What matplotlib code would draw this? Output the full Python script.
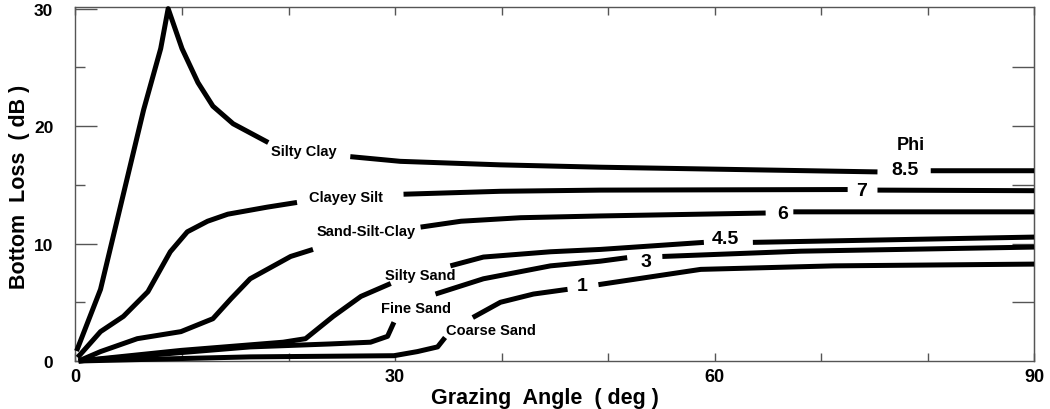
import numpy as np
import matplotlib
matplotlib.use("Agg")
import matplotlib.pyplot as plt
from matplotlib.ticker import MultipleLocator

nan = np.nan

# ---- data (grazing angle in deg, bottom loss in dB); nan = gap where label sits ----
sediments = ["Silty Clay", "Clayey Silt", "Sand-Silt-Clay", "Silty Sand", "Fine Sand", "Coarse Sand"]
phi_labels = ["8.5", "7", "6", "4.5", "3", "1"]

angle_silty_clay = [0.1, 2.35, 6.4, 8.0, 8.7, 10.0, 11.5, 12.9, 14.8, 18.1, nan,
                    25.8, 30.5, 39.9, 49.3, 75.3, nan, 80.3, 90.0]
loss_silty_clay = [0.85, 6.1, 21.4, 26.6, 30.0, 26.6, 23.7, 21.7, 20.2, 18.6, nan,
                   17.4, 17.0, 16.7, 16.5, 16.1, nan, 16.2, 16.2]

angle_clayey_silt = [0.2, 2.35, 4.5, 6.8, 8.9, 10.5, 12.4, 14.3, 18.0, 20.8, nan,
                     30.8, 39.9, 49.3, 72.5, nan, 75.3, 90.0]
loss_clayey_silt = [0.3, 2.5, 3.8, 5.9, 9.3, 11.0, 11.9, 12.5, 13.1, 13.5, nan,
                    14.2, 14.45, 14.55, 14.6, nan, 14.55, 14.5]

angle_sand_silt_clay = [0.3, 2.35, 5.8, 9.9, 12.9, 14.6, 16.4, 18.6, 20.2, 22.3, nan,
                        32.4, 36.2, 41.8, 49.3, 64.8, nan, 67.4, 90.0]
loss_sand_silt_clay = [0.0, 0.8, 1.9, 2.5, 3.6, 5.3, 7.0, 8.1, 8.9, 9.5, nan,
                       11.4, 11.9, 12.2, 12.35, 12.6, nan, 12.7, 12.7]

angle_silty_sand = [0.3, 9.9, 19.5, 21.6, 24.2, 26.8, 29.6, nan,
                    35.2, 38.3, 44.6, 49.3, 59.0, nan, 63.6, 90.0]
loss_silty_sand = [0.0, 0.9, 1.6, 1.9, 3.8, 5.5, 6.6, nan,
                   8.1, 8.85, 9.3, 9.5, 10.1, nan, 10.1, 10.55]

angle_fine_sand = [0.3, 16.4, 23.9, 27.7, 29.3, 29.9, nan,
                   33.8, 38.3, 44.6, 49.3, 51.8, nan, 55.1, 68.1, 90.0]
loss_fine_sand = [0.0, 1.2, 1.45, 1.6, 2.1, 3.3, nan,
                  5.7, 7.0, 8.1, 8.5, 8.8, nan, 8.9, 9.35, 9.7]

angle_coarse_sand = [0.3, 16.4, 29.9, 32.1, 34.0, 34.7, nan,
                     37.3, 39.9, 43.0, 46.2, nan, 49.1, 58.7, 71.2, 90.0]
loss_coarse_sand = [0.0, 0.35, 0.45, 0.8, 1.2, 2.0, nan,
                    3.7, 5.0, 5.7, 6.1, nan, 6.5, 7.8, 8.1, 8.25]

x_ticks = [0, 30, 60, 90]
y_ticks = [0, 10, 20, 30]

curves = [
    (angle_silty_clay, loss_silty_clay),
    (angle_clayey_silt, loss_clayey_silt),
    (angle_sand_silt_clay, loss_sand_silt_clay),
    (angle_silty_sand, loss_silty_sand),
    (angle_fine_sand, loss_fine_sand),
    (angle_coarse_sand, loss_coarse_sand),
]

# ---- figure ----
plt.rcParams['font.family'] = ['Liberation Sans', 'DejaVu Sans']
plt.rcParams['font.weight'] = 'bold'

fig = plt.figure(figsize=(10.5, 4.1), dpi=100)
ax = fig.add_axes([0.0719, 0.1171, 0.9129, 0.8622])

for xs, ys in curves:
    ax.plot(xs, ys, color='black', lw=3.6, solid_capstyle='butt',
            solid_joinstyle='round', clip_on=False, zorder=3)

ax.set_xlim(0, 90)
ax.set_ylim(0, 30.1)

spine_col = '#555555'
for s in ax.spines.values():
    s.set_color(spine_col)
    s.set_linewidth(1.0)

ax.set_xticks(x_ticks)
ax.xaxis.set_minor_locator(MultipleLocator(10))
ax.set_yticks(y_ticks)
ax.yaxis.set_minor_locator(MultipleLocator(5))

ax.tick_params(axis='x', which='both', direction='in', top=True, bottom=True,
               length=6, width=1.0, color=spine_col, pad=5, labelsize=13)
ax.tick_params(axis='y', which='major', direction='in', left=True, right=False,
               length=16, width=1.0, color=spine_col, pad=16, labelsize=12.5)
ax.tick_params(axis='y', which='minor', direction='in', left=True, right=False,
               length=7, width=1.0, color=spine_col)
for lab in ax.get_xticklabels() + ax.get_yticklabels():
    lab.set_fontweight('bold')

sec = ax.secondary_yaxis('right')
sec.set_yticks([5, 10, 15, 20, 25])
sec.tick_params(axis='y', direction='in', length=16, width=1.0, color=spine_col,
                labelright=False)
sec.spines['right'].set_color(spine_col)

ax.set_xlabel("Grazing  Angle  ( deg )", fontsize=15.5, fontweight='bold', va='center')
ax.xaxis.set_label_coords(0.49, -0.102)
ax.set_ylabel("Bottom  Loss  ( dB )", fontsize=15.5, fontweight='bold', va='center')
ax.yaxis.set_label_coords(-0.058, 0.495)

# sediment names
name_pos = [(21.4, 17.9), (25.4, 14.0), (27.3, 11.05), (32.4, 7.3), (32.0, 4.5), (39.0, 2.6)]
for name, (x, y) in zip(sediments, name_pos):
    ax.text(x, y, name, fontsize=10.5, fontweight='bold', ha='center', va='center', zorder=4)

# phi values
phi_pos = [(77.9, 16.3), (73.8, 14.5), (66.4, 12.6), (61.0, 10.4), (53.6, 8.5), (47.6, 6.4)]
for lab, (x, y) in zip(phi_labels, phi_pos):
    ax.text(x, y, lab, fontsize=14, fontweight='bold', ha='center', va='center', zorder=4)
ax.text(78.4, 18.4, "Phi", fontsize=13, fontweight='bold', ha='center', va='center')

fig.savefig("out.png", dpi=100)
